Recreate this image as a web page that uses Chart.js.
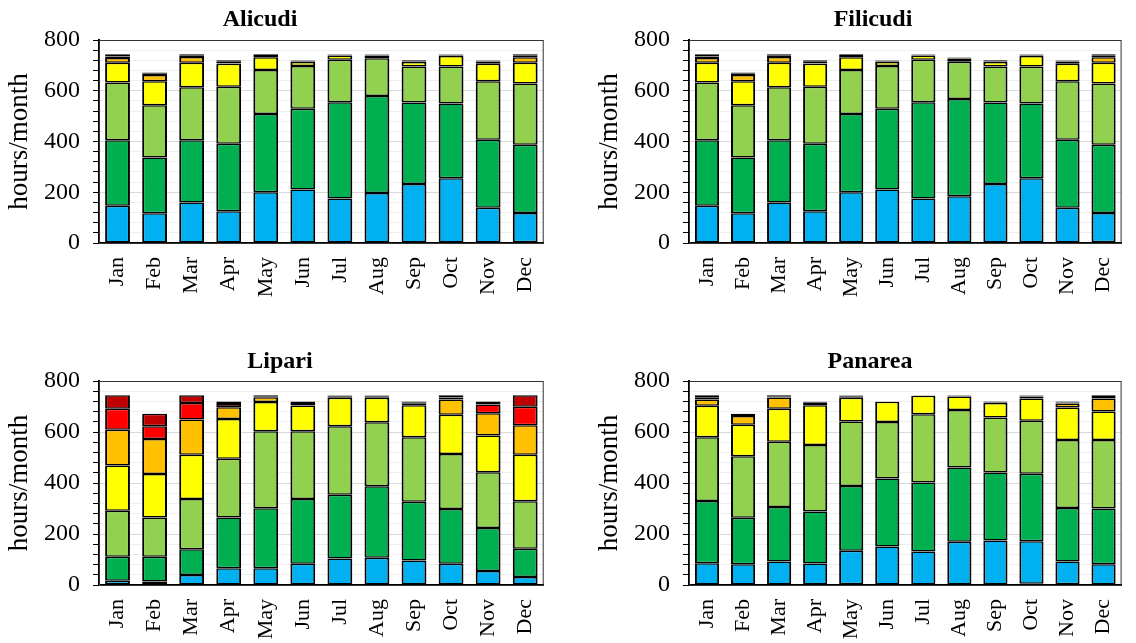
<!DOCTYPE html>
<html>
<head>
<meta charset="utf-8">
<script src="https://cdn.jsdelivr.net/npm/chart.js@4.4.0/dist/chart.umd.min.js"></script>
<style>
  html, body { margin: 0; padding: 0; background: #fff; width: 1136px; height: 643px; overflow: hidden; }
  canvas { position: absolute; }
</style>
</head>
<body>
<canvas id="alicudi" width="558" height="322" style="left:0;top:0"></canvas>
<canvas id="filicudi" width="546" height="322" style="left:590px;top:0"></canvas>
<canvas id="lipari" width="558" height="321" style="left:0;top:322px"></canvas>
<canvas id="panarea" width="546" height="321" style="left:590px;top:322px"></canvas>
<script>
const months = ['Jan', 'Feb', 'Mar', 'Apr', 'May', 'Jun', 'Jul', 'Aug', 'Sep', 'Oct', 'Nov', 'Dec'];
const yTicks = [0, 200, 400, 600, 800];

// hours/month per class, bottom to top
const alicudiNavy    = [0, 0, 0, 0, 0, 0, 0, 0, 0, 0, 0, 3];
const alicudiBlue    = [147, 117, 160, 125, 200, 211, 175, 197, 233, 255, 139, 115];
const alicudiDkGreen = [258, 220, 245, 266, 308, 318, 380, 382, 321, 295, 268, 269];
const alicudiLtGreen = [228, 206, 209, 225, 174, 169, 167, 149, 142, 146, 230, 242];
const alicudiYellow  = [77, 94, 96, 90, 50, 15, 17, 9, 17, 41, 69, 81];
const alicudiOrange  = [19, 25, 23, 2, 5, 2, 0, 2, 0, 2, 9, 22];
const alicudiRed     = [6, 5, 5, 6, 4, 3, 3, 3, 2, 3, 3, 6];
const alicudiDkRed   = [9, 5, 6, 6, 3, 2, 2, 2, 5, 2, 2, 6];

const filicudiNavy    = [0, 0, 0, 0, 0, 0, 0, 0, 0, 0, 0, 3];
const filicudiBlue    = [147, 117, 160, 125, 200, 211, 175, 184, 233, 255, 139, 115];
const filicudiDkGreen = [258, 220, 245, 266, 308, 318, 380, 383, 321, 295, 268, 269];
const filicudiLtGreen = [228, 206, 209, 225, 174, 169, 167, 147, 142, 146, 230, 242];
const filicudiYellow  = [77, 94, 96, 90, 50, 15, 17, 11, 17, 41, 69, 81];
const filicudiOrange  = [19, 25, 23, 2, 5, 2, 0, 2, 0, 2, 9, 22];
const filicudiRed     = [6, 5, 5, 6, 4, 3, 3, 2, 2, 3, 3, 6];
const filicudiDkRed   = [9, 5, 6, 6, 3, 2, 2, 2, 5, 2, 2, 6];

const lipariNavy    = [0, 0, 0, 0, 0, 0, 0, 0, 0, 0, 0, 0];
const lipariBlue    = [17, 14, 39, 66, 66, 83, 104, 107, 96, 83, 55, 31];
const lipariDkGreen = [94, 97, 101, 199, 235, 254, 250, 280, 230, 215, 169, 111];
const lipariLtGreen = [180, 154, 197, 230, 302, 266, 269, 251, 253, 216, 218, 186];
const lipariYellow  = [178, 170, 174, 156, 115, 101, 111, 96, 126, 154, 144, 183];
const lipariOrange  = [140, 138, 138, 46, 18, 10, 6, 6, 8, 59, 88, 115];
const lipariRed     = [82, 50, 65, 13, 4, 4, 3, 2, 4, 8, 34, 73];
const lipariDkRed   = [53, 49, 30, 10, 4, 2, 1, 2, 3, 9, 12, 45];

const panareaNavy    = [0, 0, 0, 0, 3, 0, 0, 0, 0, 5, 3, 0];
const panareaBlue    = [85, 81, 92, 84, 131, 151, 131, 170, 175, 167, 89, 81];
const panareaDkGreen = [244, 183, 214, 204, 254, 267, 271, 291, 266, 264, 210, 219];
const panareaLtGreen = [250, 241, 256, 261, 253, 221, 268, 225, 216, 208, 267, 269];
const panareaYellow  = [124, 123, 129, 156, 93, 80, 72, 53, 57, 87, 127, 111];
const panareaOrange  = [24, 35, 44, 12, 6, 0, 0, 2, 2, 8, 16, 51];
const panareaRed     = [9, 4, 5, 2, 2, 0, 1, 2, 2, 3, 4, 6];
const panareaDkRed   = [8, 5, 4, 1, 2, 1, 1, 1, 2, 2, 4, 7];

const colors = ['#002060', '#00B0F0', '#00B050', '#92D050', '#FFFF00', '#FFC000', '#FF0000', '#C00000'];
const font = 'Liberation Serif';

// thin frame round the plot area
const plotFrame = {
  id: 'plotFrame',
  beforeDatasetsDraw(chart) {
    const { ctx, chartArea: a } = chart;
    ctx.save();
    ctx.strokeStyle = '#333';
    ctx.lineWidth = 1;
    ctx.strokeRect(a.left + 0.5, a.top + 0.5, a.right - a.left - 1, a.bottom - a.top);
    ctx.restore();
  }
};

// island name above each panel (placed like the original, not centred on the canvas)
const islandTitle = {
  id: 'islandTitle',
  afterDraw(chart, args, opts) {
    const ctx = chart.ctx;
    ctx.save();
    ctx.font = 'bold 24px "Liberation Serif"';
    ctx.fillStyle = '#000';
    ctx.textAlign = 'center';
    ctx.textBaseline = 'middle';
    ctx.fillText(opts.text, opts.x, opts.y);
    ctx.restore();
  }
};

const makeChart = (id, title, series, box) => {
  const datasets = series.map((data, i) => ({
    data: data,
    backgroundColor: colors[i],
    borderColor: '#000',
    borderWidth: { top: 1.5, bottom: 1.5, left: 2, right: 2 },
    borderSkipped: false,
    barPercentage: 0.67,
    categoryPercentage: 1,
  }));
  return new Chart(document.getElementById(id), {
    type: 'bar',
    data: { labels: months, datasets: datasets },
    plugins: [plotFrame, islandTitle],
    options: {
      responsive: false,
      animation: false,
      layout: { padding: { right: box.right, left: 0, top: box.top, bottom: 0 } },
      plugins: {
        legend: { display: false },
        tooltip: { enabled: false },
        title: { display: false },
        islandTitle: { text: title, x: box.titleX, y: box.titleY },
      },
      scales: {
        x: {
          stacked: true,
          grid: { display: false },
          border: { display: true, color: '#000', width: 2 },
          ticks: {
            color: '#000',
            font: { family: font, size: 22 },
            minRotation: 90,
            maxRotation: 90,
            padding: 6,
            autoSkip: false,
          },
          afterFit: (s) => { s.height = box.xHeight; },
        },
        y: {
          stacked: true,
          min: 0,
          max: 800,
          border: { display: true, color: '#000', width: 2 },
          grid: {
            color: (c) => (c.tick && yTicks.includes(c.tick.value) ? '#d9d9d9' : '#efefef'),
            tickColor: '#000',
            tickLength: 6,
            lineWidth: 1,
          },
          ticks: {
            stepSize: 40,
            autoSkip: false,
            color: '#000',
            font: { family: font, size: 24 },
            padding: 13,
            callback: (v) => (yTicks.includes(v) ? v : ''),
          },
          title: {
            display: true,
            text: 'hours/month',
            color: '#000',
            font: { family: font, size: 27 },
            padding: { top: 4, bottom: 0 },
          },
          afterFit: (s) => { s.width = 99; },
        },
      },
    },
  });
};

makeChart('alicudi', 'Alicudi',
  [alicudiNavy, alicudiBlue, alicudiDkGreen, alicudiLtGreen, alicudiYellow, alicudiOrange, alicudiRed, alicudiDkRed],
  { right: 10, top: 40, xHeight: 79, titleX: 260, titleY: 20 });
makeChart('filicudi', 'Filicudi',
  [filicudiNavy, filicudiBlue, filicudiDkGreen, filicudiLtGreen, filicudiYellow, filicudiOrange, filicudiRed, filicudiDkRed],
  { right: 1, top: 40, xHeight: 79, titleX: 283, titleY: 20 });
makeChart('lipari', 'Lipari',
  [lipariNavy, lipariBlue, lipariDkGreen, lipariLtGreen, lipariYellow, lipariOrange, lipariRed, lipariDkRed],
  { right: 10, top: 59, xHeight: 58, titleX: 280, titleY: 40 });
makeChart('panarea', 'Panarea',
  [panareaNavy, panareaBlue, panareaDkGreen, panareaLtGreen, panareaYellow, panareaOrange, panareaRed, panareaDkRed],
  { right: 1, top: 59, xHeight: 58, titleX: 280, titleY: 40 });
</script>
</body>
</html>
